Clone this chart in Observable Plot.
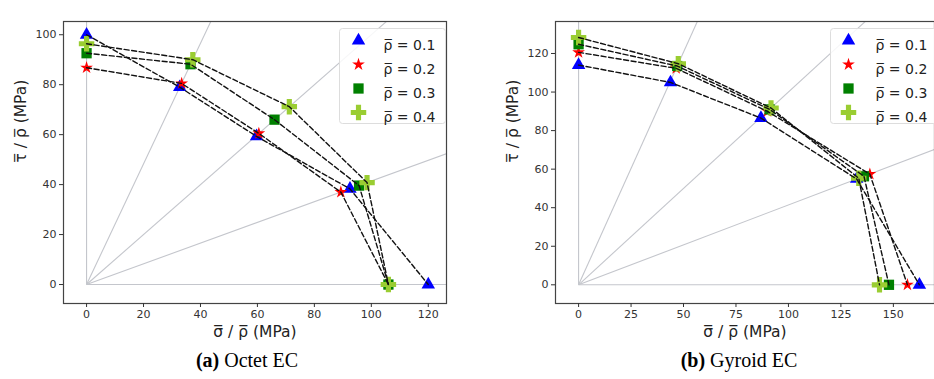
<!DOCTYPE html>
<html><head><meta charset="utf-8">
<script src="https://cdn.jsdelivr.net/npm/d3@7"></script>
<script src="https://cdn.jsdelivr.net/npm/@observablehq/plot@0.6"></script>
<style>
body{margin:0;background:#fff;}
#wrap{position:relative;width:934px;height:379px;overflow:hidden;background:#fff;}
.panel{position:absolute;top:0;}
.panel svg{overflow:visible;}
.cap{position:absolute;top:348px;width:240px;text-align:center;font-family:"Liberation Serif",serif;font-size:20px;line-height:24px;color:#000;}
</style></head><body>
<div id="wrap">
<div class="panel" id="pa" style="left:0"></div>
<div class="panel" id="pb" style="left:464px"></div>
<div class="cap" style="left:127px"><b>(a)</b> Octet EC</div>
<div class="cap" style="left:619px"><b>(b)</b> Gyroid EC</div>
</div>
<script>
// legend labels, colours, symbols
const densityLabels = ["ρ̅ = 0.1", "ρ̅ = 0.2", "ρ̅ = 0.3", "ρ̅ = 0.4"];
const seriesColors = ["#0000ff", "#ff0000", "#008000", "#9acd32"];
const seriesSymbols = ["triangle", "star", "square", "cross"];
const symbolRadius = [5, 4, 5.8, 6.5];
const rayAngles = [0, 22.5, 45, 67.5, 90]; // degrees, loading directions

// (a) Octet EC
const octetSigma01 = [0, 32.7, 59.7, 92.5, 120];
const octetTau01   = [100, 79, 59.3, 38.3, 0];
const octetSigma02 = [0, 33.4, 60.5, 89.3, 106];
const octetTau02   = [86.8, 80.5, 60.5, 37, 0];
const octetSigma03 = [0, 36.5, 66, 95.7, 106];
const octetTau03   = [92.6, 88.2, 66, 39.6, 0];
const octetSigma04 = [0, 37.3, 71.2, 98.5, 106];
const octetTau04   = [96.4, 90, 71.2, 40.8, 0];

// (b) Gyroid EC
const gyroidSigma01 = [0, 43.8, 86.9, 132.5, 162.4];
const gyroidTau01   = [114, 105, 86.5, 54.9, 0];
const gyroidSigma02 = [0, 46.5, 90, 138.8, 156.7];
const gyroidTau02   = [120.6, 112.3, 90, 57.4, 0];
const gyroidSigma03 = [0, 47, 91, 136, 147.9];
const gyroidTau03   = [124.8, 113.5, 91, 56.3, 0];
const gyroidSigma04 = [0, 47.5, 91.7, 133.5, 143.4];
const gyroidTau04   = [128.3, 114.7, 91.7, 55.3, 0];

const octetX = [0, 20, 40, 60, 80, 100, 120];
const octetY = [0, 20, 40, 60, 80, 100];
const gyroidX = [0, 25, 50, 75, 100, 125, 150];
const gyroidY = [0, 20, 40, 60, 80, 100, 120];

const xLabel = "σ̅ / ρ̅ (MPa)";
const yLabel = "τ̅ / ρ̅ (MPa)";

function makePanel(cfg) {
  const W = 470, H = 345, mt = 21, mb = 42;
  const series = cfg.sigma.map((sx, k) => sx.map((x, i) => ({x, y: cfg.tau[k][i]})));
  const R = 1000;
  const marks = [
    Plot.link(rayAngles, {
      x1: () => 0, y1: () => 0,
      x2: a => R * Math.cos(a * Math.PI / 180),
      y2: a => R * Math.sin(a * Math.PI / 180),
      stroke: "#c4c6cc", strokeWidth: 1.1, clip: true
    })
  ];
  series.forEach((pts, k) => {
    marks.push(Plot.dot(pts, {x: "x", y: "y", symbol: seriesSymbols[k], fill: seriesColors[k], r: symbolRadius[k]}));
  });
  series.forEach((pts) => {
    marks.push(Plot.line(pts, {x: "x", y: "y", stroke: "#111", strokeWidth: 1.4, strokeDasharray: "5,2.6"}));
  });
  const fw = W - cfg.ml - cfg.mr;
  marks.push(
    Plot.frame({stroke: "#444", strokeWidth: 1.2}),
    Plot.axisX({ticks: cfg.xTicks, tickSize: 4, tickPadding: 3, fontSize: 11, color: "#333", label: null}),
    Plot.axisY({ticks: cfg.yTicks, tickSize: 4, tickPadding: 3, fontSize: 11, color: "#333", label: null}),
    Plot.text([xLabel], {frameAnchor: "bottom", dy: 33, fontSize: 15.5, fill: "#222", text: d => d}),
    Plot.text([yLabel], {frameAnchor: "left", dx: -42, rotate: -90, fontSize: 15.5, fill: "#222", text: d => d}),
    Plot.frame({fill: "white", fillOpacity: 0.85, stroke: "#ddd", rx: 3,
      insetTop: 7, insetRight: cfg.boxRight, insetBottom: 180, insetLeft: fw - cfg.boxRight - 106})
  );
  densityLabels.forEach((lab, k) => {
    marks.push(
      Plot.dot([lab], {frameAnchor: "top-right", dx: cfg.legMark, dy: 19 + 24 * k,
        symbol: seriesSymbols[k], fill: seriesColors[k], r: symbolRadius[k]}),
      Plot.text([lab], {frameAnchor: "top-right", dx: cfg.legText, dy: 19 + 24 * k,
        textAnchor: "start", fontSize: 14, fill: "#222", text: d => d})
    );
  });
  return Plot.plot({
    width: W, height: H,
    marginLeft: cfg.ml, marginRight: cfg.mr, marginTop: mt, marginBottom: mb,
    style: {fontFamily: "DejaVu Sans", fontSize: "11px", background: "transparent"},
    x: {domain: cfg.xDomain},
    y: {domain: cfg.yDomain},
    marks
  });
}

document.getElementById("pa").appendChild(makePanel({
  sigma: [octetSigma01, octetSigma02, octetSigma03, octetSigma04],
  tau: [octetTau01, octetTau02, octetTau03, octetTau04],
  xDomain: [-8.1, 126.4], yDomain: [-7.6, 105.3],
  xTicks: octetX, yTicks: octetY, ml: 63, mr: 24,
  boxRight: 1, legMark: -88, legText: -63
}));
document.getElementById("pb").appendChild(makePanel({
  sigma: [gyroidSigma01, gyroidSigma02, gyroidSigma03, gyroidSigma04],
  tau: [gyroidTau01, gyroidTau02, gyroidTau03, gyroidTau04],
  xDomain: [-11, 169.6], yDomain: [-9.7, 136.6],
  xTicks: gyroidX, yTicks: gyroidY, ml: 91, mr: 0,
  boxRight: -2, legMark: -86, legText: -59
}));
</script>
</body></html>
